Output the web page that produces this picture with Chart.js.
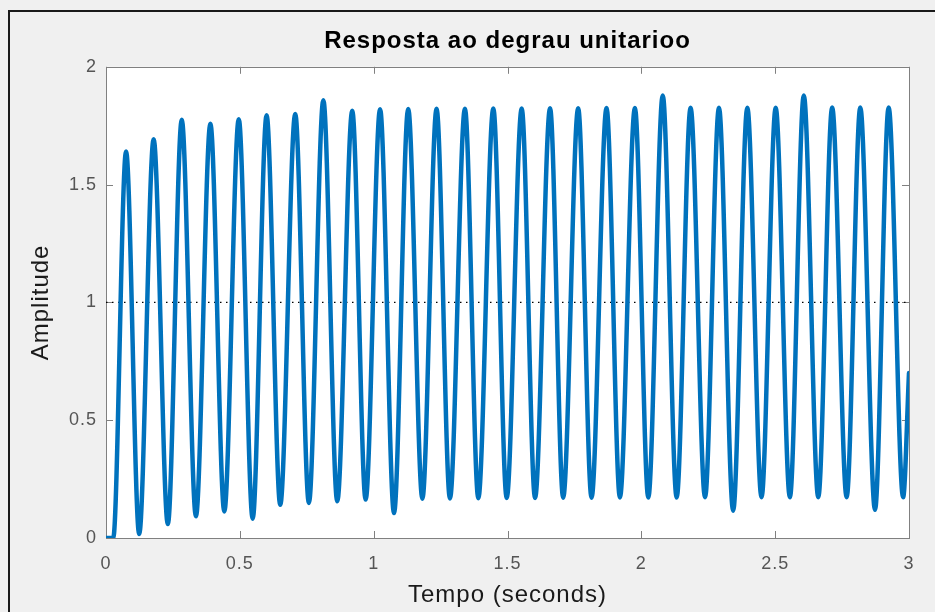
<!DOCTYPE html>
<html>
<head>
<meta charset="utf-8">
<script src="https://cdn.jsdelivr.net/npm/chart.js@4/dist/chart.umd.min.js"></script>
<style>
  html, body { margin: 0; padding: 0; background: #f0f0f0; overflow: hidden; }
  #wrap { width: 935px; height: 612px; position: relative; }
</style>
</head>
<body>
<div id="wrap"><canvas id="c" width="935" height="612"></canvas></div>
<script>
// Step response of the system, sampled at its extremes
const titleText = 'Resposta ao degrau unitarioo';
const xLabel = 'Tempo (seconds)';
const yLabel = 'Amplitude';
const xTickLabels = ['0', '0.5', '1', '1.5', '2', '2.5', '3'];
const yTickLabels = ['0', '0.5', '1', '1.5', '2'];

// resting at zero before the response starts
const restTimes = [0, 0.027];
const restValues = [0, 0];

// local maxima
const peakTimes = [0.075, 0.178, 0.283, 0.390, 0.496, 0.600, 0.707, 0.812, 0.920, 1.024,
                   1.129, 1.235, 1.341, 1.447, 1.553, 1.659, 1.764, 1.870, 1.976, 2.080,
                   2.184, 2.290, 2.396, 2.502, 2.607, 2.713, 2.818, 2.924];
const peakValues = [1.641, 1.692, 1.775, 1.758, 1.777, 1.794, 1.800, 1.858, 1.813, 1.820,
                    1.821, 1.822, 1.822, 1.823, 1.823, 1.824, 1.824, 1.825, 1.825, 1.878,
                    1.826, 1.826, 1.826, 1.826, 1.878, 1.827, 1.827, 1.827];

// local minima
const troughTimes = [0.124, 0.231, 0.336, 0.442, 0.548, 0.651, 0.758, 0.864, 0.970, 1.076,
                     1.182, 1.285, 1.391, 1.497, 1.603, 1.708, 1.814, 1.920, 2.026, 2.132,
                     2.238, 2.343, 2.449, 2.555, 2.661, 2.767, 2.873, 2.978];
const troughValues = [0.017, 0.059, 0.092, 0.113, 0.082, 0.141, 0.149, 0.156, 0.163, 0.106,
                      0.167, 0.168, 0.169, 0.170, 0.170, 0.171, 0.171, 0.172, 0.172, 0.172,
                      0.173, 0.116, 0.173, 0.173, 0.173, 0.173, 0.120, 0.173];

// value at the end of the time window
const endTimes = [3.0];
const endValues = [0.70];

// final value of the step
const steadyState = 1;

function pairs(ts, vs) { return ts.map((t, i) => ({ x: t, y: vs[i] })); }
const responsePoints = [
  ...pairs(restTimes, restValues),
  ...pairs(peakTimes, peakValues),
  ...pairs(troughTimes, troughValues),
  ...pairs(endTimes, endValues)
].sort((a, b) => a.x - b.x);

const steadyPoints = [
  { x: 0, y: steadyState },
  { x: 3, y: steadyState }
];

const BOX = '#808080';
const TICK_LEN = 7;
const FONT = '"Liberation Sans", Arial, sans-serif';

const frame = {
  id: 'frame',
  beforeLayout(chart) { chart.ctx.letterSpacing = '1px'; },
  afterLayout(chart) {
    // centre the title over the plotting area
    const tb = chart.titleBlock;
    if (tb) {
      tb.left = chart.chartArea.left;
      tb.right = chart.chartArea.right;
      tb.width = tb.right - tb.left;
    }
  },
  beforeDraw(chart) {
    const { ctx, width, height, chartArea: a } = chart;
    ctx.letterSpacing = '1px';
    ctx.save();
    ctx.fillStyle = '#f0f0f0';
    ctx.fillRect(0, 0, width, height);
    ctx.fillStyle = '#ffffff';
    ctx.fillRect(a.left, a.top, a.right - a.left, a.bottom - a.top);
    ctx.restore();
  },
  beforeDatasetsDraw(chart) {
    const { ctx, chartArea: a, scales } = chart;
    ctx.save();
    ctx.strokeStyle = BOX;
    ctx.lineWidth = 1;
    ctx.strokeRect(Math.round(a.left) + 0.5, Math.round(a.top) + 0.5,
                   Math.round(a.right - a.left), Math.round(a.bottom - a.top));
    ctx.beginPath();
    scales.x.ticks.forEach(t => {
      const px = Math.round(scales.x.getPixelForValue(t.value)) + 0.5;
      ctx.moveTo(px, a.bottom); ctx.lineTo(px, a.bottom - TICK_LEN);
      ctx.moveTo(px, a.top); ctx.lineTo(px, a.top + TICK_LEN);
    });
    scales.y.ticks.forEach(t => {
      const py = Math.round(scales.y.getPixelForValue(t.value)) + 0.5;
      ctx.moveTo(a.left, py); ctx.lineTo(a.left + TICK_LEN, py);
      ctx.moveTo(a.right, py); ctx.lineTo(a.right - TICK_LEN, py);
    });
    ctx.stroke();
    ctx.restore();
  },
  afterDraw(chart) {
    const { ctx, width, height } = chart;
    ctx.save();
    ctx.strokeStyle = '#1a1a1a';
    ctx.lineWidth = 2;
    ctx.beginPath();
    ctx.moveTo(9, height);
    ctx.lineTo(9, 11);
    ctx.lineTo(width, 11);
    ctx.stroke();
    ctx.restore();
  }
};

new Chart(document.getElementById('c'), {
  type: 'line',
  data: {
    datasets: [
      {
        data: responsePoints,
        borderColor: '#0072BD',
        borderWidth: 4.5,
        cubicInterpolationMode: 'monotone',
        borderJoinStyle: 'round',
        borderCapStyle: 'round',
        pointRadius: 0,
        fill: false
      },
      {
        data: steadyPoints,
        borderColor: '#000000',
        borderWidth: 1.2,
        borderDash: [1.5, 4.5],
        pointRadius: 0,
        fill: false
      }
    ]
  },
  options: {
    responsive: false,
    animation: false,
    devicePixelRatio: 1,
    layout: { padding: { left: 0, top: 0, right: 26, bottom: 0 } },
    plugins: {
      legend: { display: false },
      tooltip: { enabled: false },
      title: {
        display: true,
        text: titleText,
        color: '#000000',
        font: { family: FONT, size: 24, weight: 'bold', lineHeight: 1.2 },
        padding: { top: 27, bottom: 11 }
      }
    },
    scales: {
      x: {
        type: 'linear',
        min: 0, max: 3,
        afterFit(s) { s.height = 74; },
        ticks: {
          stepSize: 0.5,
          padding: 15,
          color: '#555555',
          maxRotation: 0,
          autoSkip: false,
          font: { family: FONT, size: 18 },
          callback: (v, i) => xTickLabels[i]
        },
        grid: { display: false, drawTicks: false },
        border: { display: false },
        title: {
          display: true,
          text: xLabel,
          color: '#1a1a1a',
          font: { family: FONT, size: 24, lineHeight: 1.2 },
          padding: { top: 0, bottom: 2 }
        }
      },
      y: {
        type: 'linear',
        min: 0, max: 2,
        afterFit(s) { s.width = 106; },
        ticks: {
          stepSize: 0.5,
          padding: 9,
          color: '#555555',
          font: { family: FONT, size: 18 },
          callback: (v, i) => yTickLabels[i]
        },
        grid: { display: false, drawTicks: false },
        border: { display: false },
        title: {
          display: true,
          text: yLabel,
          color: '#1a1a1a',
          font: { family: FONT, size: 24, lineHeight: 1.2 },
          padding: { top: 27, bottom: 0 }
        }
      }
    }
  },
  plugins: [frame]
});
</script>
</body>
</html>
